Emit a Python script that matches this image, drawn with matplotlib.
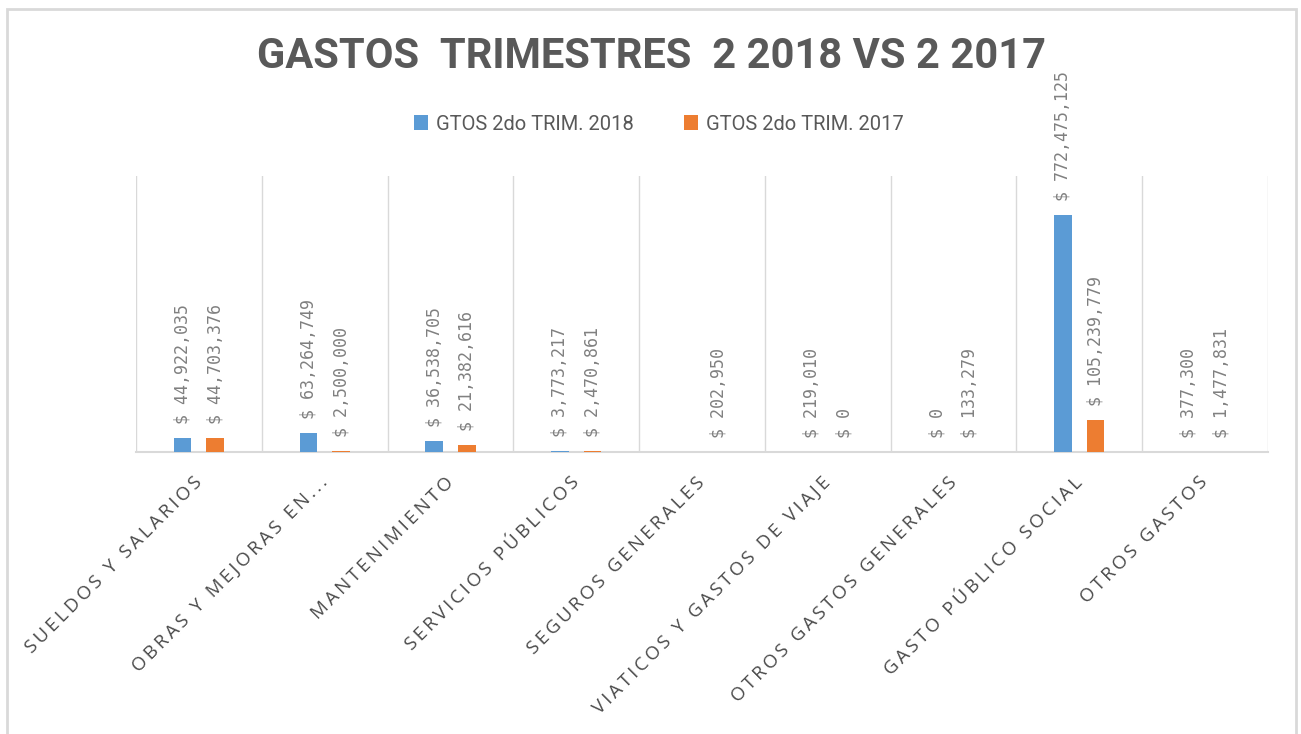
import matplotlib
matplotlib.use('Agg')
import matplotlib.pyplot as plt
from matplotlib.patches import Rectangle
import numpy as np

categorias = ['SUELDOS Y SALARIOS', 'OBRAS Y MEJORAS EN...', 'MANTENIMIENTO',
              'SERVICIOS PÚBLICOS', 'SEGUROS GENERALES', 'VIATICOS Y GASTOS DE VIAJE',
              'OTROS GASTOS GENERALES', 'GASTO PÚBLICO SOCIAL', 'OTROS GASTOS']
gtos_2018 = [44922035, 63264749, 36538705, 3773217, None, 219010, 0, 772475125, 377300]
gtos_2017 = [44703376, 2500000, 21382616, 2470861, 202950, 0, 133279, 105239779, 1477831]
series = ['GTOS 2do TRIM. 2018', 'GTOS 2do TRIM. 2017']
colores = ['#5B9BD5', '#ED7D31']

narrow = ['Roboto', 'DejaVu Sans']


def espaciar(txt):
    return '\u2009'.join(txt)


fig = plt.figure(figsize=(13.01, 7.34), dpi=100)
fig.patch.set_facecolor('white')
fig.patches.append(Rectangle((7 / 1301, -0.05), 1289 / 1301, 725 / 734 + 0.05, transform=fig.transFigure,
                             fill=False, edgecolor='#d9d9d9', linewidth=2))

ax = fig.add_axes([136 / 1301, 282 / 734, 1132 / 1301, 276 / 734])
x = np.arange(len(categorias))
w = 0.14
off = 0.13

for i, (vals, col) in enumerate(zip([gtos_2018, gtos_2017], colores)):
    pos = x + (-off if i == 0 else off)
    alturas = [v if v is not None else 0 for v in vals]
    ax.bar(pos, alturas, width=w, color=col, linewidth=0, label=series[i], zorder=3)
    for p, v in zip(pos, vals):
        if v is None:
            continue
        ax.annotate('$ {:,}'.format(v), xy=(p, v), xytext=(0, 14), textcoords='offset pixels',
                    rotation=90, ha='center', va='bottom', color='#808080',
                    family='DejaVu Sans Mono', fontsize=12, annotation_clip=False)

ax.set_xlim(-0.5, len(categorias) - 0.5)
ax.set_ylim(0, 900000000)
for b in np.arange(-0.5, len(categorias), 1.0):
    ax.axvline(b, color='#d9d9d9', linewidth=1, zorder=1)
for s in ['top', 'left', 'right']:
    ax.spines[s].set_visible(False)
ax.spines['bottom'].set_color('#d9d9d9')
ax.spines['bottom'].set_linewidth(1.5)
ax.set_yticks([])
ax.set_xticks(x)
ax.set_xticklabels([espaciar(c) for c in categorias], rotation=45, ha='right', va='center',
                   rotation_mode='anchor', color='#4a4a4a', fontsize=13.5,
                   family=['Open Sans', 'DejaVu Sans'])
ax.tick_params(axis='x', length=0, pad=20)

fig.suptitle('GASTOS  TRIMESTRES  2 2018 VS 2 2017', x=651 / 1301, y=1 - 57 / 734, va='center',
             fontsize=30, fontweight='bold', color='#595959', family=narrow)

fig.legend(loc='center', bbox_to_anchor=(659 / 1301, 1 - 124 / 734), ncol=2, frameon=False,
           prop={'family': narrow, 'size': 14.5}, labelcolor='#595959', handlelength=0.7,
           handleheight=0.7, columnspacing=2.5, handletextpad=0.4)

fig.savefig('out.png', dpi=100, facecolor='white')
